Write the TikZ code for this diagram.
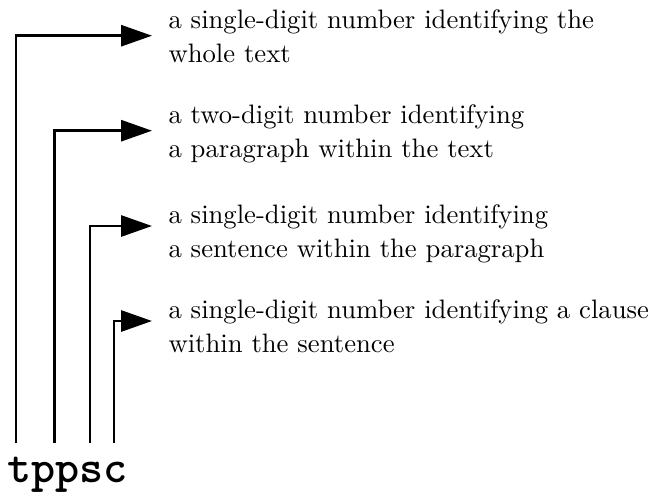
\documentclass[tikz,border=0pt]{standalone}
\usetikzlibrary{arrows.meta}
\begin{document}
\begin{tikzpicture}[x=0.375pt,y=-0.375pt,
  conn/.style={line width=1pt,-{Triangle[length=11.6pt,width=7.9pt]}},
  lbl/.style={anchor=base west,inner sep=0pt,align=left,font=\fontsize{10}{12.75}\selectfont},
  word/.style={anchor=base west,inner sep=0pt,font=\fontsize{17.2}{17.2}\selectfont\ttfamily\bfseries}]
\useasboundingbox (0,0) rectangle (655,494);
\node[word] (w) at (7,482) {tppsc};
\coordinate (v1) at (16,443);
\coordinate (v2) at (54.5,443);
\coordinate (v3) at (90,443);
\coordinate (v4) at (114,443);
\coordinate (a1) at (152,35.7);
\coordinate (a2) at (152,130.7);
\coordinate (a3) at (152,226);
\coordinate (a4) at (152,321);
\node[lbl] (t1) at (168,62) {a single-digit number identifying the\\whole text};
\node[lbl] (t2) at (168,157) {a two-digit number identifying\\a paragraph within the text};
\node[lbl] (t3) at (168,257) {a single-digit number identifying\\a sentence within the paragraph};
\node[lbl] (t4) at (168,352) {a single-digit number identifying a clause\\within the sentence};
\draw[conn] (v1) |- (a1);
\draw[conn] (v2) |- (a2);
\draw[conn] (v3) |- (a3);
\draw[conn] (v4) |- (a4);
\end{tikzpicture}
\end{document}
